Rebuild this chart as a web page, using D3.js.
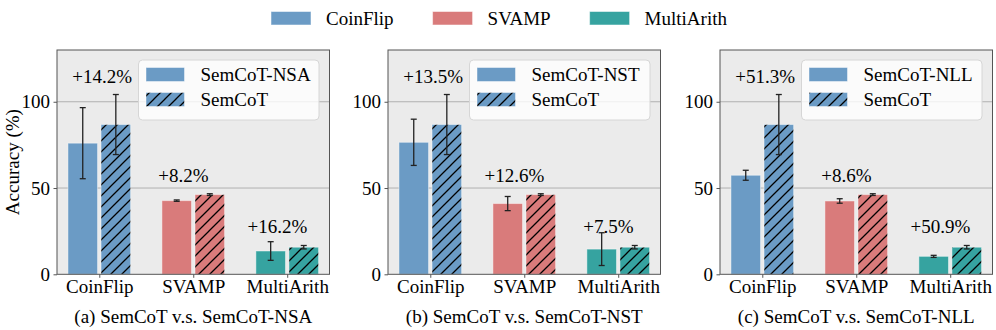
<!DOCTYPE html>
<html><head><meta charset="utf-8">
<script src="https://cdn.jsdelivr.net/npm/d3@7"></script>
<style>html,body{margin:0;padding:0;background:#fff;}svg{display:block;font-family:"Liberation Serif","Times New Roman","DejaVu Serif",serif;}</style>
</head><body><svg id="c" width="996" height="330"></svg>
<script>
// ---- data ----
const categories = ["CoinFlip", "SVAMP", "MultiArith"];
const panelTitles = ["(a) SemCoT v.s. SemCoT-NSA", "(b) SemCoT v.s. SemCoT-NST", "(c) SemCoT v.s. SemCoT-NLL"];
const variantNames = ["SemCoT-NSA", "SemCoT-NST", "SemCoT-NLL"];
const semcotMean = [86.8, 46.2, 15.7];
const semcotErr  = [17.4, 0.5, 1.0];
const nsaMean = [76.0, 42.7, 13.5];
const nsaErr  = [20.6, 0.4, 5.4];
const nstMean = [76.5, 41.0, 14.6];
const nstErr  = [13.4, 4.1, 9.5];
const nllMean = [57.4, 42.5, 10.4];
const nllErr  = [2.9, 1.3, 0.6];
const gainsNSA = ["+14.2%", "+8.2%", "+16.2%"];
const gainsNST = ["+13.5%", "+12.6%", "+7.5%"];
const gainsNLL = ["+51.3%", "+8.6%", "+50.9%"];
const yTicks = [0, 50, 100];
const colors = ["#6b9bc5", "#d97b7b", "#36a3a0"];

const variantMeans = [nsaMean, nstMean, nllMean];
const variantErrs = [nsaErr, nstErr, nllErr];
const gains = [gainsNSA, gainsNST, gainsNLL];

(function () {
// ---- layout ----
const svg = d3.select("#c");
const yTop = 50, yBottom = 274.3, pw = 272.5;
const lefts = [57, 388, 720];
const y = d3.scaleLinear().domain([0, 130]).range([yBottom, yTop]);
const font = 19;

// hatch patterns
const defs = svg.append("defs");
colors.forEach((c, i) => {
  const p = defs.append("pattern").attr("id", "h" + i).attr("patternUnits", "userSpaceOnUse")
    .attr("width", 11).attr("height", 11);
  p.append("rect").attr("width", 11).attr("height", 11).attr("fill", c);
  p.append("path").attr("d", "M-2,13 L13,-2 M-4,4 L4,-4 M7,15 L15,7")
    .attr("stroke", "#000").attr("stroke-width", 1.3);
});

// top legend
const lg = svg.append("g");
let lx = 271;
categories.forEach((c, i) => {
  lg.append("rect").attr("x", lx).attr("y", 11.5).attr("width", 40).attr("height", 13.5)
    .attr("fill", colors[i]).attr("stroke", "#fff").attr("stroke-opacity", 0.5);
  const t = lg.append("text").attr("x", lx + 55).attr("y", 18.5).attr("dominant-baseline", "central")
    .attr("font-size", font).text(c);
  lx += 55 + t.node().getComputedTextLength() + 39;
});

variantNames.forEach((vn, pi) => {
  const x0 = lefts[pi];
  const x = d3.scaleLinear().domain([-0.45, 2.45]).range([x0, x0 + pw]);
  const g = svg.append("g");
  g.append("rect").attr("x", x0).attr("y", yTop).attr("width", pw).attr("height", yBottom - yTop).attr("fill", "#ebebeb");
  // grid
  g.selectAll(".grid").data(yTicks.filter(d => d > 0)).join("line")
    .attr("x1", x0).attr("x2", x0 + pw).attr("y1", d => y(d)).attr("y2", d => y(d))
    .attr("stroke", "#b0b0b0").attr("stroke-width", 1);
  const bw = 0.315, off = 0.176;
  const means = variantMeans[pi], errs = variantErrs[pi];
  categories.forEach((c, i) => {
    g.append("rect").attr("x", x(i - off - bw / 2)).attr("width", x(bw) - x(0))
      .attr("y", y(means[i])).attr("height", y(0) - y(means[i]))
      .attr("fill", colors[i]).attr("stroke", "#fff").attr("stroke-opacity", 0.45).attr("stroke-width", 1);
    g.append("rect").attr("x", x(i + off - bw / 2)).attr("width", x(bw) - x(0))
      .attr("y", y(semcotMean[i])).attr("height", y(0) - y(semcotMean[i]))
      .attr("fill", "url(#h" + i + ")").attr("stroke", "#fff").attr("stroke-opacity", 0.45).attr("stroke-width", 1);
    [[i - off, means[i], errs[i]], [i + off, semcotMean[i], semcotErr[i]]].forEach(([cx, m, e]) => {
      const px = x(cx);
      g.append("line").attr("x1", px).attr("x2", px).attr("y1", y(m - e)).attr("y2", y(m + e))
        .attr("stroke", "#222").attr("stroke-width", 1.3);
      [m - e, m + e].forEach(v => g.append("line").attr("x1", px - 3).attr("x2", px + 3)
        .attr("y1", y(v)).attr("y2", y(v)).attr("stroke", "#222").attr("stroke-width", 1.3));
    });
    const ax = i === 0 ? i + 0.03 : i - 0.105;
    g.append("text").attr("x", x(ax)).attr("y", y(semcotMean[i] + semcotErr[i]) - 18.5)
      .attr("text-anchor", "middle").attr("dominant-baseline", "central")
      .attr("font-size", font).text(gains[pi][i]);
  });
  g.append("rect").attr("x", x0).attr("y", yTop).attr("width", pw).attr("height", yBottom - yTop)
    .attr("fill", "none").attr("stroke", "#555").attr("stroke-width", 1);
  const ya = g.append("g").attr("transform", `translate(${x0},0)`)
    .call(d3.axisLeft(y).tickValues(yTicks).tickSize(3.5).tickPadding(3.5));
  ya.attr("font-family", null).attr("font-size", font);
  ya.select(".domain").remove();
  ya.selectAll("line").attr("stroke", "#555");
  ya.selectAll("text").attr("fill", "#000");
  const xa = g.append("g").attr("transform", `translate(0,${yBottom})`)
    .call(d3.axisBottom(x).tickValues([0, 1, 2]).tickFormat(d => categories[d]).tickSize(3.5).tickPadding(2));
  xa.attr("font-family", null).attr("font-size", font);
  xa.select(".domain").remove();
  xa.selectAll("line").attr("stroke", "#555");
  xa.selectAll("text").attr("fill", "#000");
  const lgx = x0 + 81.5, lgy = 60;
  g.append("rect").attr("x", lgx).attr("y", lgy).attr("width", 180.5).attr("height", 60)
    .attr("rx", 4).attr("fill", "#fff").attr("fill-opacity", 0.8).attr("stroke", "#d6d6d6").attr("stroke-width", 1);
  g.append("rect").attr("x", lgx + 7.5).attr("y", 67.5).attr("width", 38.5).attr("height", 14)
    .attr("fill", colors[0]).attr("stroke", "#fff").attr("stroke-opacity", 0.45);
  g.append("rect").attr("x", lgx + 7.5).attr("y", 92.5).attr("width", 38.5).attr("height", 14)
    .attr("fill", "url(#h0)").attr("stroke", "#fff").attr("stroke-opacity", 0.45);
  g.append("text").attr("x", lgx + 62).attr("y", 74.5).attr("dominant-baseline", "central")
    .attr("font-size", font).text(vn);
  g.append("text").attr("x", lgx + 62).attr("y", 99.5).attr("dominant-baseline", "central")
    .attr("font-size", font).text("SemCoT");
  g.append("text").attr("x", x0 + pw / 2).attr("y", 316.5).attr("text-anchor", "middle")
    .attr("dominant-baseline", "central").attr("font-size", font).text(panelTitles[pi]);
});

svg.append("text").attr("transform", `translate(12,${(yTop + yBottom) / 2}) rotate(-90)`)
  .attr("text-anchor", "middle").attr("dominant-baseline", "central")
  .attr("font-size", font).text("Accuracy (%)");
})();
</script></body></html>
